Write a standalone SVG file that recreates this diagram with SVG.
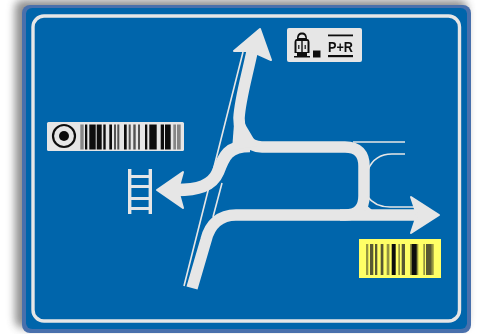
<svg xmlns="http://www.w3.org/2000/svg" width="477" height="334" viewBox="0 0 477 334">
<style>
.road{fill:none;stroke:#e6e6e6;stroke-width:11.500}
.head{fill:#e6e6e6;stroke:#e6e6e6;stroke-width:2;stroke-linejoin:round}
.fillin{fill:#e6e6e6}
.thin{fill:none;stroke:#e6e6e6;stroke-width:1.600}
.plate{fill:#e6e6e6}
.ink{fill:#111}
.ink2{fill:#111;opacity:.45}
.ink3{fill:#222;opacity:.75}
.soft{filter:url(#b)}
</style>
<defs>
<filter id="soft" x="-10%" y="-10%" width="120%" height="120%"><feGaussianBlur stdDeviation="4"/></filter>
<filter id="b" x="-5%" y="-5%" width="110%" height="110%"><feGaussianBlur stdDeviation="0.45"/></filter>
</defs>
<rect width="477" height="334" fill="#fff"/>
<rect x="15" y="0" width="452" height="328" rx="8" fill="#444" opacity=".6" filter="url(#soft)"/>
<g id="sign" class="soft">
<rect x="22" y="5" width="449" height="328" rx="8" fill="#4a70ac"/>
<rect x="26" y="8" width="441" height="321" rx="6" fill="#0065ab"/>
<rect x="33" y="16" width="426.500" height="305" rx="11" fill="none" stroke="#e6e6e6" stroke-width="3.400"/>
</g>
<g id="connectors" class="soft">
<path class="thin" d="M184 286L243 52M250 54L246 72M222 183L213 217"/>
<path class="thin" d="M353 142H405M405 154H392C380 154 372 160 368 170M367 196C372 203 380 207 390 207H414"/>
<path class="road" d="M192 288L206 240C210 224 220 215 236 215H345C358 215 364 208 364 196V166C364 154 358 147 345 147H262C248 147 239 134 239 118C240 100 246 80 252 52"/>
<path class="road" d="M420 215H340"/>
<path class="road" style="stroke-width:12.500" d="M176 190C198 190 212 186 218 172C224 156 228 146 250 146"/>
<path class="fillin" d="M234 124L245 124L258 146L232 150Z"/>
<path class="fillin" d="M364 203L372 210L358 211Z"/>
<path class="head" d="M260 29L271 60L251 51L234 51Z"/>
<path class="head" d="M439 215L411 197L417 215L411 233Z"/>
<path class="head" d="M157 190L183 172L178 190L183 208Z"/>
</g>
<g id="ladder" fill="#e6e6e6" class="soft">
<rect x="128" y="169" width="3.400" height="45"/><rect x="148.600" y="169" width="3.400" height="45"/>
<rect x="128" y="175" width="24" height="3"/><rect x="128" y="185" width="24" height="3"/><rect x="128" y="197" width="24" height="3"/><rect x="128" y="207" width="24" height="3"/>
</g>
<g id="plate-left" class="soft">
<rect class="plate" x="47" y="122" width="137" height="29" rx="1.500"/>
<circle cx="64" cy="136" r="11" fill="none" stroke="#111" stroke-width="2.200"/><circle cx="64" cy="136" r="5" fill="#111"/>
<g>
<rect class="ink2" x="80.300" y="124.500" width="3.400" height="25"/>
<rect class="ink" x="85" y="124.500" width="2.300" height="25"/>
<rect class="ink" x="89.300" y="124.500" width="6.400" height="25"/>
<rect class="ink" x="96.700" y="124.500" width="5" height="25"/>
<rect class="ink" x="103.300" y="124.500" width="2.400" height="25"/>
<rect class="ink" x="109.300" y="124.500" width="2.700" height="25"/>
<rect class="ink3" x="114" y="124.500" width="2" height="25"/>
<rect class="ink3" x="117.300" y="124.500" width="2" height="25"/>
<rect class="ink" x="124" y="124.500" width="2.700" height="25"/>
<rect class="ink3" x="128.700" y="124.500" width="2" height="25"/>
<rect class="ink3" x="133.300" y="124.500" width="2.400" height="25"/>
<rect class="ink3" x="138" y="124.500" width="2" height="25"/>
<rect class="ink" x="145" y="124.500" width="2.300" height="25"/>
<rect class="ink" x="149.300" y="124.500" width="7.400" height="25"/>
<rect class="ink" x="160.700" y="124.500" width="3.300" height="25"/>
<rect class="ink" x="165" y="124.500" width="5.700" height="25"/>
<rect class="ink2" x="173.300" y="124.500" width="2.700" height="25"/>
<rect class="ink2" x="177" y="124.500" width="3.700" height="25"/>
</g>
</g>
<g id="plate-top" class="soft">
<rect class="plate" x="287" y="28" width="75" height="34" rx="2"/>
<path class="ink" d="M297 39C297 34 299 32.500 302 32.500C305 32.500 307 34 307 39C309 39 309.500 41 309.500 43V53H307V56H297V53H294.500V43C294.500 41 295 39 297 39ZM298.500 38H305.500C305 35.500 304 34.500 302 34.500C300 34.500 299 35.500 298.500 38ZM296.500 41V52H301.300V41ZM302.700 41V52H307.500V41Z"/>
<rect class="ink" x="294" y="56" width="16" height="1.500"/>
<rect class="ink" x="313" y="50.500" width="7.500" height="7"/>
<rect class="ink" x="298.200" y="45" width="1.200" height="4"/><rect class="ink" x="304.600" y="45" width="1.200" height="4"/>
<rect class="ink" x="328" y="34.500" width="25" height="1.800"/><rect class="ink" x="328" y="55" width="25" height="2.200"/>
<text x="328" y="51.500" font-family="'Liberation Sans',Arial,sans-serif" font-weight="700" font-size="15.500" textLength="25" lengthAdjust="spacingAndGlyphs" fill="#111">P+R</text>
</g>
<g id="plate-yellow" class="soft">
<rect x="359" y="239" width="82" height="39" fill="#ffff66"/>
<rect class="ink2" x="366" y="244" width="2.300" height="31"/>
<rect class="ink3" x="370" y="244" width="3.300" height="31"/>
<rect class="ink3" x="375" y="244" width="2.300" height="31"/>
<rect class="ink3" x="380.700" y="244" width="2.700" height="31"/>
<rect class="ink2" x="386.700" y="244" width="2.700" height="31"/>
<rect class="ink" x="391.700" y="244" width="4" height="31"/>
<rect class="ink2" x="398.300" y="244" width="1.700" height="31"/>
<rect class="ink3" x="401.700" y="244" width="3.300" height="31"/>
<rect class="ink2" x="410" y="244" width="8.300" height="31"/>
<rect class="ink" x="411.700" y="244" width="5" height="31"/>
<rect class="ink2" x="423.300" y="244" width="1.700" height="31"/>
<rect class="ink3" x="426" y="244" width="5.700" height="31"/>
<rect class="ink2" x="431.700" y="244" width="2" height="31"/>
</g>
</svg>
